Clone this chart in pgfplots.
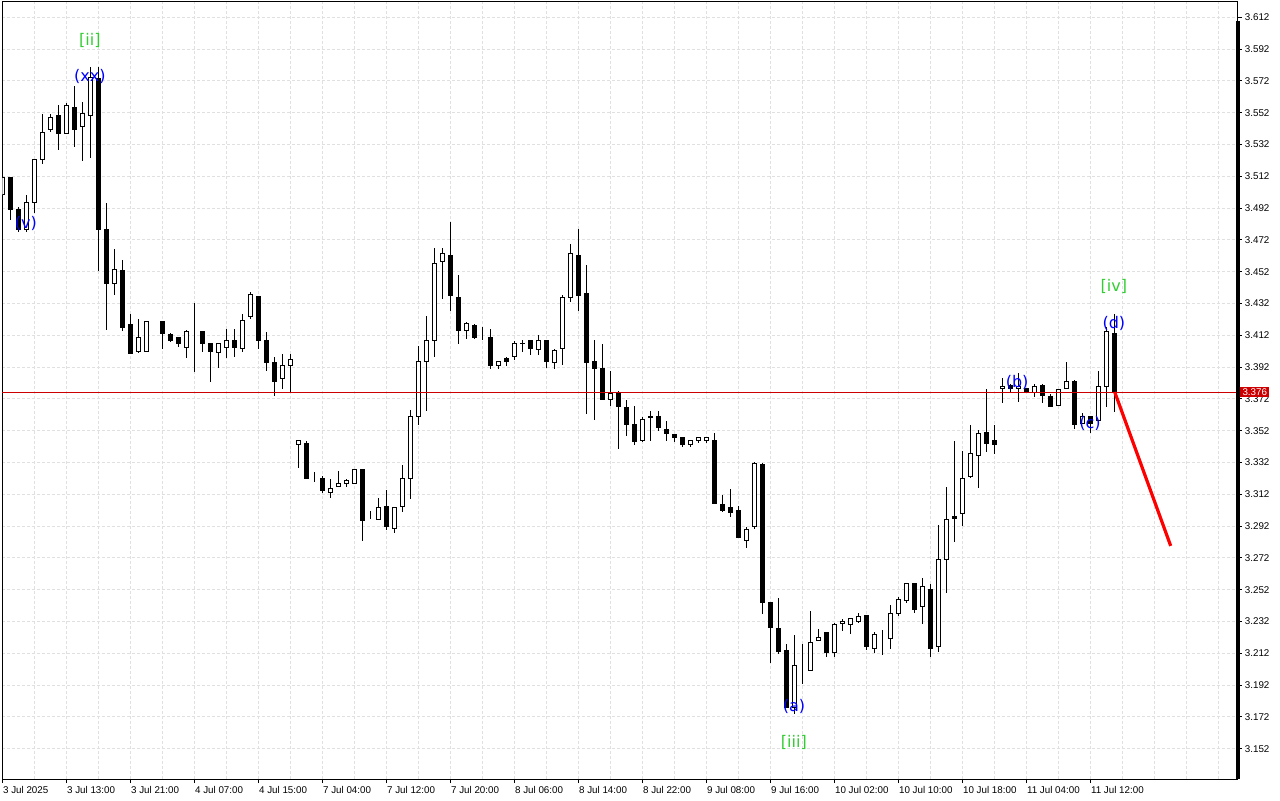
\documentclass[border=0pt]{standalone}
\usepackage{fontspec}
\setmainfont{Liberation Sans}
\newfontfamily\wavefont{DejaVu Sans}
\usepackage{pgfplots}
\usepackage{pgfplotstable}
\pgfplotsset{compat=1.18}

\definecolor{gridgray}{RGB}{224,224,224}
\definecolor{bidred}{RGB}{204,0,0}
\definecolor{wavegreen}{RGB}{50,205,50}
\definecolor{waveblue}{RGB}{0,0,255}

% hourly candles, x = bar number
\pgfplotstableread{
x o h l c
0 3.5003 3.5123 3.4990 3.5110
1 3.5110 3.5110 3.4845 3.4914
2 3.4914 3.4927 3.4769 3.4782
3 3.4782 3.5003 3.4769 3.4958
4 3.4952 3.5223 3.4889 3.5223
5 3.5223 3.5512 3.5198 3.5398
6 3.5411 3.5512 3.5398 3.5487
7 3.5499 3.5569 3.5286 3.5386
8 3.5386 3.5581 3.5386 3.5562
9 3.5550 3.5688 3.5304 3.5411
10 3.5430 3.5587 3.5217 3.5512
11 3.5499 3.5808 3.5236 3.5739
12 3.5732 3.5808 3.4525 3.4782
13 3.4782 3.4952 3.4153 3.4443
14 3.4443 3.4663 3.4374 3.4531
15 3.4525 3.4594 3.4147 3.4166
16 3.4185 3.4254 3.4003 3.4003
17 3.4015 3.4223 3.4009 3.4103
18 3.4015 3.4204 3.4015 3.4204
19 3.4204 3.4204 3.4204 3.4204
20 3.4204 3.4204 3.4034 3.4134
21 3.4122 3.4134 3.4078 3.4084
22 3.4103 3.4103 3.4046 3.4065
23 3.4046 3.4153 3.3978 3.4141
24 3.4134 3.4323 3.3889 3.4134
25 3.4141 3.4141 3.4015 3.4065
26 3.4065 3.4065 3.3826 3.4015
27 3.4009 3.4065 3.3914 3.4065
28 3.4046 3.4160 3.3978 3.4084
29 3.4090 3.4160 3.3984 3.4046
30 3.4034 3.4254 3.4015 3.4210
31 3.4235 3.4393 3.4223 3.4374
32 3.4361 3.4361 3.4034 3.4084
33 3.4090 3.4141 3.3895 3.3946
34 3.3946 3.3984 3.3738 3.3826
35 3.3845 3.4003 3.3782 3.3927
36 3.3927 3.4003 3.3757 3.3965
37 3.3436 3.3455 3.3286 3.3455
38 3.3442 3.3455 3.3216 3.3216
39 3.3235 3.3260 3.3197 3.3235
40 3.3222 3.3235 3.3128 3.3141
41 3.3128 3.3216 3.3097 3.3153
42 3.3166 3.3267 3.3166 3.3185
43 3.3185 3.3216 3.3166 3.3204
44 3.3185 3.3273 3.3185 3.3273
45 3.3273 3.3273 3.2826 3.2958
46 3.2964 3.3015 3.2964 3.2964
47 3.2964 3.3097 3.2964 3.3034
48 3.3046 3.3147 3.2895 3.2920
49 3.2907 3.3034 3.2876 3.3034
50 3.3046 3.3305 3.3008 3.3216
51 3.3216 3.3650 3.3090 3.3612
52 3.3606 3.4053 3.3556 3.3952
53 3.3952 3.4241 3.3644 3.4090
54 3.4084 3.4670 3.3984 3.4569
55 3.4581 3.4670 3.4349 3.4632
56 3.4619 3.4833 3.4273 3.4367
57 3.4355 3.4500 3.4065 3.4147
58 3.4147 3.4204 3.4097 3.4191
59 3.4179 3.4191 3.4097 3.4103
60 3.4116 3.4172 3.4090 3.4116
61 3.4103 3.4160 3.3908 3.3927
62 3.3927 3.3952 3.3908 3.3952
63 3.3971 3.3984 3.3927 3.3958
64 3.3984 3.4084 3.3965 3.4071
65 3.4071 3.4090 3.4015 3.4065
66 3.4084 3.4090 3.3996 3.4034
67 3.4028 3.4122 3.3996 3.4084
68 3.4084 3.4084 3.3914 3.3958
69 3.3946 3.4034 3.3908 3.4021
70 3.4034 3.4374 3.3933 3.4355
71 3.4355 3.4695 3.4330 3.4632
72 3.4619 3.4789 3.4273 3.4367
73 3.4380 3.4563 3.3625 3.3946
74 3.3952 3.4090 3.3587 3.3914
75 3.3914 3.4065 3.3719 3.3719
76 3.3719 3.3895 3.3675 3.3751
77 3.3751 3.3770 3.3405 3.3669
78 3.3663 3.3713 3.3486 3.3556
79 3.3556 3.3675 3.3430 3.3449
80 3.3455 3.3606 3.3449 3.3593
81 3.3612 3.3644 3.3455 3.3600
82 3.3612 3.3644 3.3518 3.3537
83 3.3530 3.3581 3.3455 3.3505
84 3.3493 3.3493 3.3449 3.3474
85 3.3474 3.3480 3.3417 3.3436
86 3.3436 3.3455 3.3417 3.3455
87 3.3455 3.3480 3.3442 3.3474
88 3.3455 3.3480 3.3442 3.3474
89 3.3461 3.3505 3.3059 3.3059
90 3.3053 3.3116 3.3008 3.3015
91 3.3034 3.3153 3.2977 3.3008
92 3.3015 3.3046 3.2845 3.2845
93 3.2832 3.2914 3.2782 3.2901
94 3.2914 3.3323 3.2901 3.3311
95 3.3305 3.3317 3.2367 3.2436
96 3.2436 3.2436 3.2059 3.2285
97 3.2273 3.2468 3.2116 3.2128
98 3.2135 3.2178 3.1776 3.1776
99 3.1776 3.2235 3.1738 3.2040
100 3.2028 3.2178 3.1927 3.2028
101 3.2009 3.2386 3.2009 3.2185
102 3.2197 3.2273 3.2197 3.2222
103 3.2248 3.2248 3.2097 3.2122
104 3.2122 3.2311 3.2097 3.2298
105 3.2304 3.2336 3.2260 3.2317
106 3.2298 3.2336 3.2241 3.2336
107 3.2317 3.2374 3.2311 3.2348
108 3.2355 3.2355 3.2141 3.2160
109 3.2147 3.2254 3.2122 3.2235
110 3.2222 3.2266 3.2109 3.2222
111 3.2210 3.2424 3.2147 3.2367
112 3.2367 3.2474 3.2355 3.2455
113 3.2449 3.2556 3.2436 3.2556
114 3.2556 3.2562 3.2374 3.2398
115 3.2417 3.2593 3.2304 3.2537
116 3.2524 3.2556 3.2097 3.2147
117 3.2160 3.2927 3.2128 3.2707
118 3.2707 3.3166 3.2499 3.2964
119 3.2983 3.3455 3.2820 3.2970
120 3.2996 3.3392 3.2920 3.3222
121 3.3229 3.3556 3.3222 3.3374
122 3.3361 3.3524 3.3160 3.3505
123 3.3511 3.3782 3.3386 3.3442
124 3.3455 3.3556 3.3374 3.3430
125 3.3782 3.3851 3.3694 3.3795
126 3.3801 3.3814 3.3763 3.3782
127 3.3782 3.3883 3.3700 3.3795
128 3.3782 3.3788 3.3757 3.3763
129 3.3763 3.3814 3.3732 3.3795
130 3.3801 3.3814 3.3694 3.3744
131 3.3732 3.3751 3.3675 3.3675
132 3.3681 3.3776 3.3681 3.3776
133 3.3782 3.3952 3.3782 3.3832
134 3.3832 3.3839 3.3530 3.3556
135 3.3562 3.3631 3.3562 3.3606
136 3.3606 3.3606 3.3505 3.3568
137 3.3581 3.3895 3.3581 3.3795
138 3.3795 3.4172 3.3669 3.4141
139 3.4134 3.4254 3.3637 3.3763
}\candles

\newcommand\tickfont{\fontsize{4.9pt}{5.2pt}\selectfont}
\pgfplotsset{
  chartframe/.style={scale only axis, width=617.6pt, height=388.5pt,
    at={(1.15pt,10.5pt)}, anchor=south west,
    xmin=-0.05, xmax=154.35, ymin=3.1329, ymax=3.6216},
}
\tikzset{wave/.style={font=\wavefont\fontsize{8pt}{8.5pt}\selectfont, inner sep=0pt}}

\begin{document}
\begin{tikzpicture}
% frame, grid, ticks and the wicks
\begin{axis}[chartframe,
  axis line style={line width=0.5pt},
  xtick={0,8,...,136},
  xticklabels={3 Jul 2025, 3 Jul 13:00, 3 Jul 21:00, 4 Jul 07:00, 4 Jul 15:00,
    7 Jul 04:00, 7 Jul 12:00, 7 Jul 20:00, 8 Jul 06:00, 8 Jul 14:00,
    8 Jul 22:00, 9 Jul 08:00, 9 Jul 16:00, 10 Jul 02:00, 10 Jul 10:00,
    10 Jul 18:00, 11 Jul 04:00, 11 Jul 12:00},
  minor xtick={0,4,...,152},
  ytick={3.152,3.172,3.192,3.212,3.232,3.252,3.272,3.292,3.312,3.332,3.352,3.372,
    3.392,3.412,3.432,3.452,3.472,3.492,3.512,3.532,3.552,3.572,3.592,3.612},
  xtick pos=left, ytick pos=right, yticklabel pos=right,
  xminorgrids=true, ymajorgrids=true,
  grid style={gridgray, line width=0.5pt, dash pattern=on 1.5pt off 1pt},
  tick align=outside, major tick length=2pt, minor tick length=0pt,
  tick style={black, line width=0.5pt},
  ticklabel style={font=\tickfont, inner sep=0pt},
  xticklabel style={anchor=north west, yshift=-1.5pt},
  yticklabel style={anchor=west, xshift=1.5pt},
  /pgf/number format/.cd, fixed, fixed zerofill, precision=3, assume math mode=true,
  /pgfplots/.cd, scaled y ticks=false,
]
\addplot[draw=none, mark=none, forget plot,
  error bars/.cd, y dir=both, y explicit, error mark=none,
  error bar style={draw=black, line width=0.6pt}]
  table[x=x, y expr={(\thisrow{h}+\thisrow{l})/2}, y error expr={(\thisrow{h}-\thisrow{l})/2}] {\candles};
\end{axis}

% candle bodies: invisible base, then rising and falling parts
\begin{axis}[chartframe, hide axis, ybar stacked, bar width=0.5]
\addplot[draw=none, fill=none] table[x=x, y expr={min(\thisrow{o},\thisrow{c})}] {\candles};
\addplot[draw=black, fill=white, line width=0.5pt] table[x=x, y expr={max(\thisrow{c}-\thisrow{o},0)}] {\candles};
\addplot[draw=black, fill=black, line width=0.5pt] table[x=x, y expr={max(\thisrow{o}-\thisrow{c},0)}] {\candles};
\end{axis}

% bid line, forecast and wave labels
\begin{axis}[chartframe, hide axis, clip=false]
\addplot[bidred, line width=0.5pt] coordinates {(-0.05,3.3763) (154.35,3.3763)};
\addplot[red, line width=1.6pt] coordinates {(139,3.3763) (146,3.2795)};
\draw[line width=2pt] (rel axis cs:1,0) -- (rel axis cs:1,0.975);
\node[fill=bidred, text=white, font=\tickfont, inner sep=0pt, minimum height=5pt,
  minimum width=14.5pt, anchor=west, xshift=1.2pt] at (axis cs:154.35,3.3763) {3.376};
\node[wave, wavegreen] at (axis cs:10.9,3.5977) {[ii]};
\node[wave, waveblue] at (axis cs:10.9,3.5745) {(xx)};
\node[wave, waveblue] at (axis cs:2.9,3.4820) {(v)};
\node[wave, waveblue] at (axis cs:98.9,3.1788) {(a)};
\node[wave, wavegreen] at (axis cs:98.9,3.1556) {[iii]};
\node[wave, waveblue] at (axis cs:126.8,3.3826) {(b)};
\node[wave, waveblue] at (axis cs:135.9,3.3562) {(c)};
\node[wave, waveblue] at (axis cs:138.9,3.4197) {(d)};
\node[wave, wavegreen] at (axis cs:138.9,3.4424) {[iv]};
\end{axis}

\pgfresetboundingbox
\path[use as bounding box] (0,0) rectangle (640pt,400pt);
\end{tikzpicture}
\end{document}
